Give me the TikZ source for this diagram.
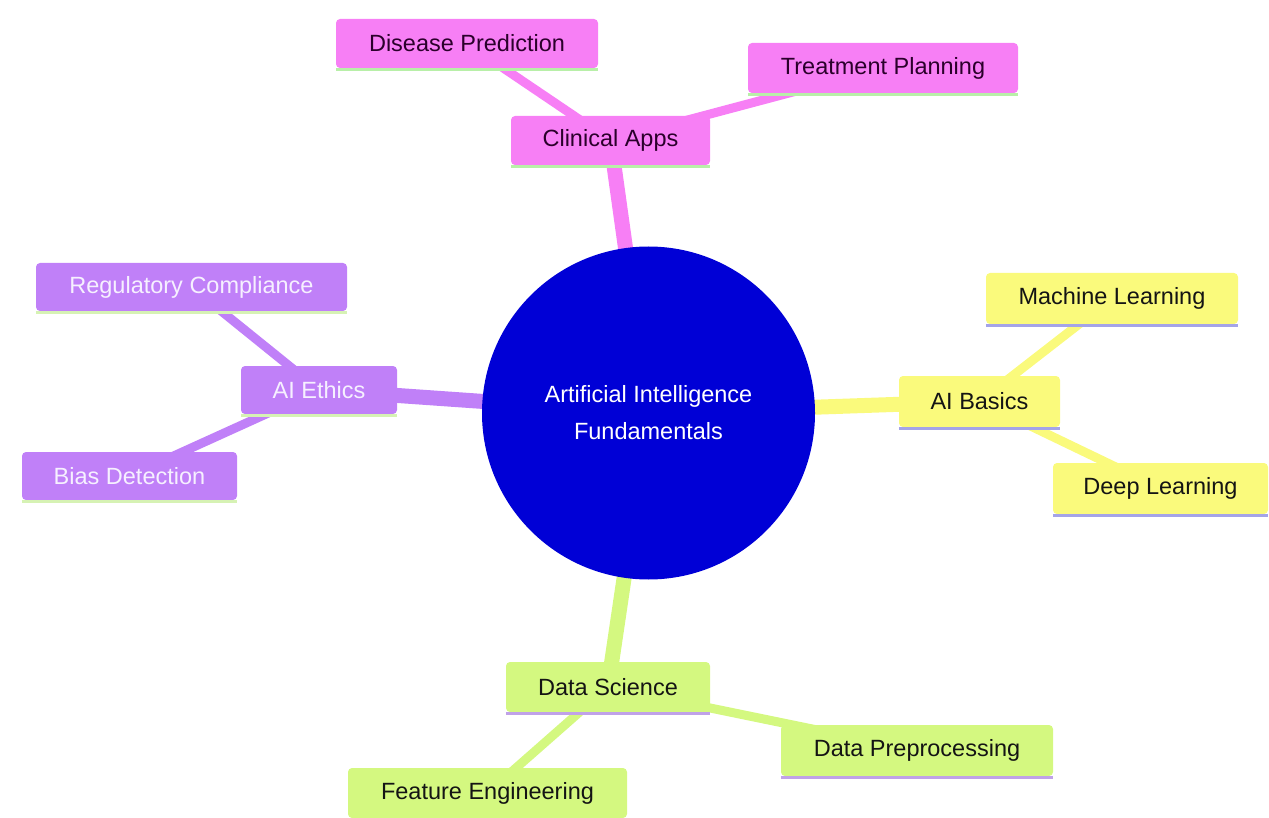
\documentclass[tikz,border=0pt]{standalone}
\usepackage{fontspec}
\setmainfont{Liberation Sans}
\pgfdeclarelayer{bg}
\pgfsetlayers{bg,main}
\definecolor{pinkc}{HTML}{F77FF5}
\definecolor{purplec}{HTML}{C080F8}
\definecolor{yellowc}{HTML}{FAFA7C}
\definecolor{greenc}{HTML}{D4F880}
\definecolor{bluec}{HTML}{0000D6}
\definecolor{pinktxt}{HTML}{2B002B}
\definecolor{purpletxt}{HTML}{F6F0FF}
\definecolor{darktxt}{HTML}{141414}
\definecolor{ulgreen}{HTML}{B8EFA8}
\definecolor{ulblue}{HTML}{A4A4E8}
\definecolor{ullime}{HTML}{D6F2B4}
\definecolor{ulpurple}{HTML}{C0A2E8}
\tikzset{
  mbox/.style={rectangle, rounded corners=4pt, inner sep=0pt, font=\fontsize{23.5}{28}\selectfont},
  pinkbox/.style={mbox, fill=pinkc, text=pinktxt},
  purplebox/.style={mbox, fill=purplec, text=purpletxt},
  yellowbox/.style={mbox, fill=yellowc, text=darktxt},
  greenbox/.style={mbox, fill=greenc, text=darktxt},
  rootedge/.style={line width=15pt},
  childedge/.style={line width=9pt},
  ul/.style={line width=3pt}
}
\begin{document}
\begin{tikzpicture}[x=1pt,y=-1pt]
\useasboundingbox (0,0) rectangle (1269,818);
% root
\node[circle, fill=bluec, minimum size=333pt, inner sep=0pt, text=white, align=center,
  font=\fontsize{23.5}{37}\selectfont] (root) at (648.5,413) {Artificial Intelligence\\Fundamentals};
% Clinical Apps branch
\node[pinkbox, minimum width=199pt, minimum height=49pt] (ca) at (610.5,140.5) {Clinical Apps};
\node[pinkbox, minimum width=262pt, minimum height=49pt] (dp) at (467,43.5) {Disease Prediction};
\node[pinkbox, minimum width=270pt, minimum height=50pt] (tp) at (883,68) {Treatment Planning};
% AI Basics branch
\node[yellowbox, minimum width=161pt, minimum height=51pt] (ab) at (979.5,401.5) {AI Basics};
\node[yellowbox, minimum width=252pt, minimum height=51pt] (ml) at (1112,298.5) {Machine Learning};
\node[yellowbox, minimum width=215pt, minimum height=51pt] (dl) at (1160.5,488.5) {Deep Learning};
% AI Ethics branch
\node[purplebox, minimum width=156pt, minimum height=48pt] (ae) at (319,390) {AI Ethics};
\node[purplebox, minimum width=311pt, minimum height=48pt] (rc) at (191.5,287) {Regulatory Compliance};
\node[purplebox, minimum width=215pt, minimum height=48pt] (bd) at (129.5,476) {Bias Detection};
% Data Science branch
\node[greenbox, minimum width=204pt, minimum height=50pt] (ds) at (608,687) {Data Science};
\node[greenbox, minimum width=272pt, minimum height=51pt] (dpr) at (917,750.5) {Data Preprocessing};
\node[greenbox, minimum width=279pt, minimum height=50pt] (fe) at (487.5,793) {Feature Engineering};
% underlines
\draw[ul, ulgreen] ([yshift=-1.5pt]ca.south west) -- ([yshift=-1.5pt]ca.south east);
\draw[ul, ulgreen] ([yshift=-1.5pt]dp.south west) -- ([yshift=-1.5pt]dp.south east);
\draw[ul, ulgreen] ([yshift=-1.5pt]tp.south west) -- ([yshift=-1.5pt]tp.south east);
\draw[ul, ulblue] ([yshift=-1.5pt]ab.south west) -- ([yshift=-1.5pt]ab.south east);
\draw[ul, ulblue] ([yshift=-1.5pt]ml.south west) -- ([yshift=-1.5pt]ml.south east);
\draw[ul, ulblue] ([yshift=-1.5pt]dl.south west) -- ([yshift=-1.5pt]dl.south east);
\draw[ul, ullime] ([yshift=-1.5pt]ae.south west) -- ([yshift=-1.5pt]ae.south east);
\draw[ul, ullime] ([yshift=-1.5pt]rc.south west) -- ([yshift=-1.5pt]rc.south east);
\draw[ul, ullime] ([yshift=-1.5pt]bd.south west) -- ([yshift=-1.5pt]bd.south east);
\draw[ul, ulpurple] ([yshift=-1.5pt]ds.south west) -- ([yshift=-1.5pt]ds.south east);
\draw[ul, ulpurple] ([yshift=-1.5pt]dpr.south west) -- ([yshift=-1.5pt]dpr.south east);
\draw[ul, ulpurple] ([yshift=-1.5pt]fe.south west) -- ([yshift=-1.5pt]fe.south east);
% edges
\begin{pgfonlayer}{bg}
\draw[rootedge, pinkc] (root.center) -- (ca.center);
\draw[childedge, pinkc] (ca.center) -- (dp.center);
\draw[childedge, pinkc] (ca.center) -- (tp.center);
\draw[rootedge, yellowc] (root.center) -- (ab.center);
\draw[childedge, yellowc] (ab.center) -- (ml.center);
\draw[childedge, yellowc] (ab.center) -- (dl.center);
\draw[rootedge, purplec] (root.center) -- (ae.center);
\draw[childedge, purplec] (ae.center) -- (rc.center);
\draw[childedge, purplec] (ae.center) -- (bd.center);
\draw[rootedge, greenc] (root.center) -- (ds.center);
\draw[childedge, greenc] (ds.center) -- (dpr.center);
\draw[childedge, greenc] (ds.center) -- (fe.center);
\end{pgfonlayer}
\end{tikzpicture}
\end{document}
